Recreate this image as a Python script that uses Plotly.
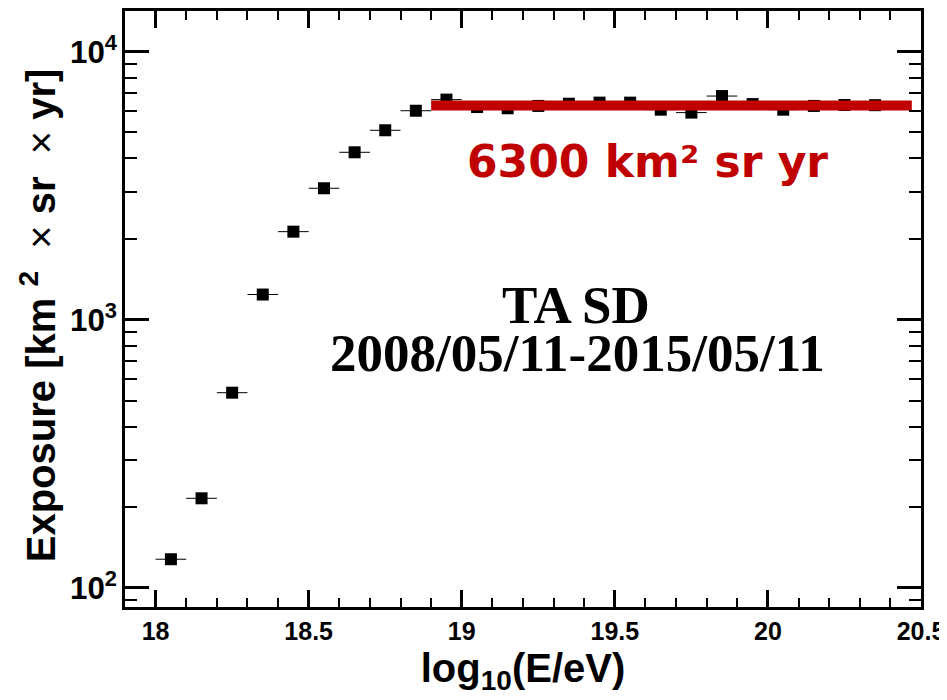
import plotly.graph_objects as go

# Data
log_energy = [18.05, 18.15, 18.25, 18.35, 18.45, 18.55, 18.65, 18.75, 18.85, 18.95,
              19.05, 19.15, 19.25, 19.35, 19.45, 19.55, 19.65, 19.75, 19.85, 19.95,
              20.05, 20.15, 20.25, 20.35]
exposure = [128, 216, 535, 1243, 2133, 3096, 4217, 5095, 6026, 6630,
            6220, 6155, 6280, 6400, 6460, 6460, 6080, 5930, 6835, 6380,
            6080, 6280, 6330, 6320]
bin_half_width = [0.05] * len(log_energy)

plateau_x = [18.9, 20.47]
plateau_y = [6300, 6300]

x_tick_vals = [18, 18.5, 19, 19.5, 20, 20.5]
x_tick_text = ["18", "18.5", "19", "19.5", "20", "20.5"]

fig = go.Figure()

fig.add_trace(go.Scatter(
    x=log_energy, y=exposure, mode="markers",
    marker=dict(symbol="square", size=12, color="black"),
    error_x=dict(type="data", array=bin_half_width, color="black", thickness=1, width=0),
    showlegend=False,
))

fig.add_trace(go.Scatter(
    x=plateau_x, y=plateau_y, mode="lines",
    line=dict(color="#C00000", width=10),
    showlegend=False,
))

tick_font = dict(family="Liberation Sans", size=25, color="black", weight="bold")
title_font = dict(family="Liberation Sans", size=40, color="black", weight="bold")

nb = "\u00a0"
times = "<span style='font-weight:normal'>×</span>"
y_title = f"Exposure [km{nb}<sup>2</sup>{nb}{nb}{times}{nb}sr{nb}{nb}{times}{nb}yr]"

fig.update_layout(
    width=939, height=692, autosize=False,
    margin=dict(l=117, r=26, t=3, b=93),
    plot_bgcolor="white", paper_bgcolor="white",
    xaxis=dict(
        range=[17.9, 20.5],
        tickmode="array", tickvals=x_tick_vals, ticktext=x_tick_text,
        ticks="inside", ticklen=17, tickwidth=3, tickcolor="black",
        minor=dict(dtick=0.1, tick0=18, ticks="inside", ticklen=9, tickwidth=2, tickcolor="black"),
        showline=True, linewidth=3, linecolor="black", mirror="allticks",
        showgrid=False, zeroline=False,
        tickfont=tick_font,
        title=dict(text="log<sub>10</sub>(E/eV)", font=title_font, standoff=10),
        automargin=False,
    ),
    yaxis=dict(
        type="log", range=[1.929, 4.152],
        tickmode="linear", tick0=0, dtick=1,
        exponentformat="power", showexponent="all",
        ticks="inside", ticklen=24, tickwidth=3, tickcolor="black",
        minor=dict(dtick="D1", ticks="inside", ticklen=12, tickwidth=2, tickcolor="black"),
        showline=True, linewidth=3, linecolor="black", mirror="allticks",
        showgrid=False, zeroline=False,
        tickfont=tick_font,
        automargin=False,
    ),
    annotations=[
        dict(text=y_title, x=-0.109, y=0.49, xref="paper", yref="paper", textangle=-90,
             xanchor="center", yanchor="middle", showarrow=False, font=title_font),
        dict(text="6300 km² sr yr", x=0.656, y=0.748, xref="paper", yref="paper",
             xanchor="center", yanchor="middle", showarrow=False,
             font=dict(family="DejaVu Sans", size=44, color="#C00000", weight="bold")),
        dict(text="TA SD", x=0.5666, y=0.507, xref="paper", yref="paper",
             xanchor="center", yanchor="middle", showarrow=False,
             font=dict(family="Liberation Serif", size=53, color="black", weight="bold")),
        dict(text="2008/05/11-2015/05/11", x=0.5688, y=0.426, xref="paper", yref="paper",
             xanchor="center", yanchor="middle", showarrow=False,
             font=dict(family="Liberation Serif", size=53, color="black", weight="bold")),
    ],
)

fig.write_html("out.html")
